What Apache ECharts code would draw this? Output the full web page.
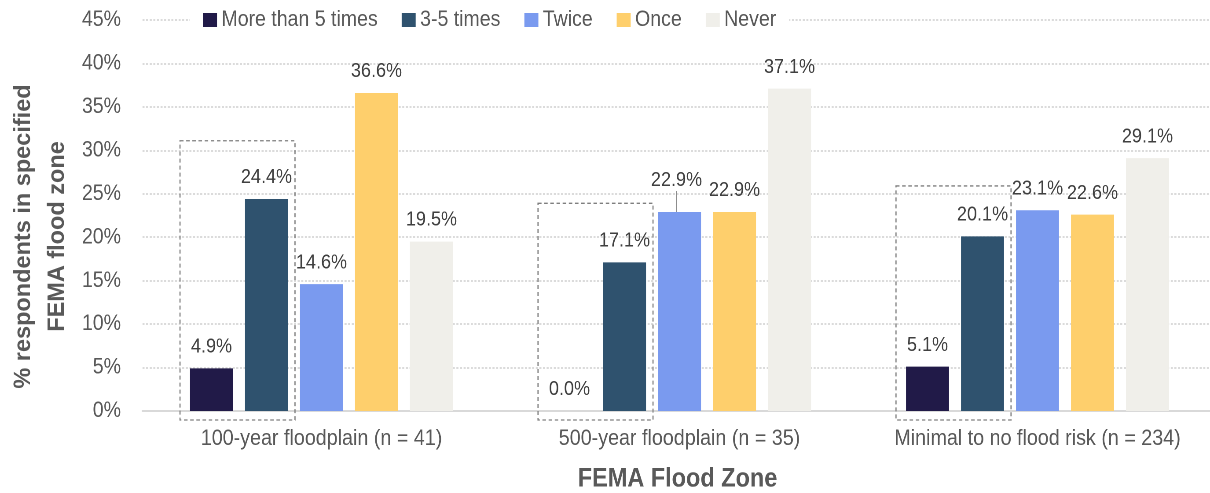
<!DOCTYPE html>
<html>
<head>
<meta charset="utf-8">
<script src="https://cdn.jsdelivr.net/npm/echarts@6/dist/echarts.min.js"></script>
<style>
  html, body { margin: 0; padding: 0; background: #fff; overflow: hidden; width: 1210px; height: 493px; }
  /* the chart is laid out wide and condensed horizontally, giving the tall narrow lettering */
  #chart { width: 1400px; height: 493px; transform: scaleX(0.88); transform-origin: 0 0; }
</style>
</head>
<body>
<div id="chart"></div>
<script>
// Flood zones and share of respondents (%) by number of floods experienced
const zones = ['100-year floodplain (n = 41)', '500-year floodplain (n = 35)', 'Minimal to no flood risk (n = 234)'];
const seriesNames = ['More than 5 times', '3-5 times', 'Twice', 'Once', 'Never'];
const moreThan5 = [4.9, 0.0, 5.1];
const threeToFive = [24.4, 17.1, 20.1];
const twice = [14.6, 22.9, 23.1];
const once = [36.6, 22.9, 22.6];
const never = [19.5, 37.1, 29.1];
// top edge (%) of the dashed highlight box around the two most-frequent groups
const highlightTops = [31.1, 23.9, 25.9];
const yTicks = [0, 45, 5]; // min, max, interval

const colors = ['#211A48', '#2F526E', '#7A9AEF', '#FECF6C', '#F0EFEA'];
const FONT = "'Liberation Sans', Arial, sans-serif";
const SX = 0.88;               // horizontal condensing applied by CSS
const px = v => v / SX;        // screen px (horizontal) -> chart px
const BAR_W = px(43);
const BAR_GAP = px(12);

const chart = echarts.init(document.getElementById('chart'), null, { renderer: 'canvas', devicePixelRatio: 2 });

const valueSets = [moreThan5, threeToFive, twice, once, never];
const barSeries = valueSets.map((vals, i) => ({
  name: seriesNames[i],
  type: 'bar',
  barWidth: BAR_W,
  barGap: (BAR_GAP / BAR_W * 100).toFixed(1) + '%',
  itemStyle: { color: colors[i] },
  data: vals.map((v, j) => {
    const item = { value: v };
    // the Twice label in the 500-year group is lifted and tied back with a leader
    if (i === 2 && j === 1) {
      item.labelLine = { show: true, lineStyle: { color: '#8c8c8c', width: 1.3 } };
    }
    return item;
  }),
  label: {
    show: true,
    position: 'top',
    distance: 11,
    color: '#404040',
    fontFamily: FONT,
    fontSize: 20.5,
    formatter: p => p.value.toFixed(1) + '%'
  },
  labelLine: { show: false },
  labelLayout: i === 2 ? (p => p.dataIndex === 1 ? { dy: -10, dx: px(-3) } : {}) : undefined,
  z: 2
}));

const highlightSeries = {
  type: 'custom',
  silent: true,
  clip: false,
  z: 3,
  data: highlightTops.map((t, i) => [i, t]),
  renderItem: (params, api) => {
    const base = api.coord([api.value(0), 0]);
    const top = api.coord([api.value(0), api.value(1)]);
    const step = BAR_W + BAR_GAP;
    const left = base[0] - 2 * step - BAR_W / 2 - px(10);
    const right = base[0] - step + BAR_W / 2 + px(7);
    return {
      type: 'rect',
      shape: { x: left, y: top[1], width: right - left, height: base[1] + 9 - top[1] },
      style: { fill: 'none', stroke: '#7f7f7f', lineWidth: 1.3, lineDash: [4, 3] }
    };
  }
};

chart.setOption({
  animation: false,
  backgroundColor: '#fff',
  textStyle: { fontFamily: FONT },
  legend: {
    data: seriesNames,
    left: px(190),
    top: 7,
    padding: [2, px(13)],
    backgroundColor: '#fff',
    itemWidth: px(14),
    itemHeight: 14,
    itemGap: px(24),
    icon: 'rect',
    textStyle: { color: '#595959', fontSize: 22.2, fontFamily: FONT }
  },
  grid: { left: px(142.5), top: 20, width: px(1074), height: 391, outerBoundsMode: 'none' },
  xAxis: {
    type: 'category',
    data: zones,
    axisTick: { show: false },
    axisLine: { lineStyle: { color: '#d9d9d9', width: 2 } },
    axisLabel: { color: '#595959', fontSize: 22.4, fontFamily: FONT, margin: 17, interval: 0 }
  },
  yAxis: {
    type: 'value',
    min: yTicks[0],
    max: yTicks[1],
    interval: yTicks[2],
    axisLine: { show: false },
    axisTick: { show: false },
    axisLabel: { color: '#595959', fontSize: 22.2, fontFamily: FONT, margin: px(21.5), formatter: v => v + '%' },
    splitLine: { lineStyle: { color: '#cfcfcf', width: 1.5, type: [2.3, 1.8] } }
  },
  graphic: [{
    type: 'text',
    rotation: Math.PI / 2,
    scaleY: 1 / SX,
    x: px(40.5), y: 236.5,
    style: {
      text: '% respondents in specified\nFEMA flood zone',
      fill: '#595959',
      font: "bold 23.5px " + FONT,
      textAlign: 'center',
      textVerticalAlign: 'middle',
      lineHeight: 34
    }
  }, {
    type: 'text',
    x: px(677.5), y: 479,
    style: {
      text: 'FEMA Flood Zone',
      fill: '#595959',
      font: "bold 26.7px " + FONT,
      textAlign: 'center',
      textVerticalAlign: 'middle'
    }
  }],
  series: [...barSeries, highlightSeries]
});
</script>
</body>
</html>
